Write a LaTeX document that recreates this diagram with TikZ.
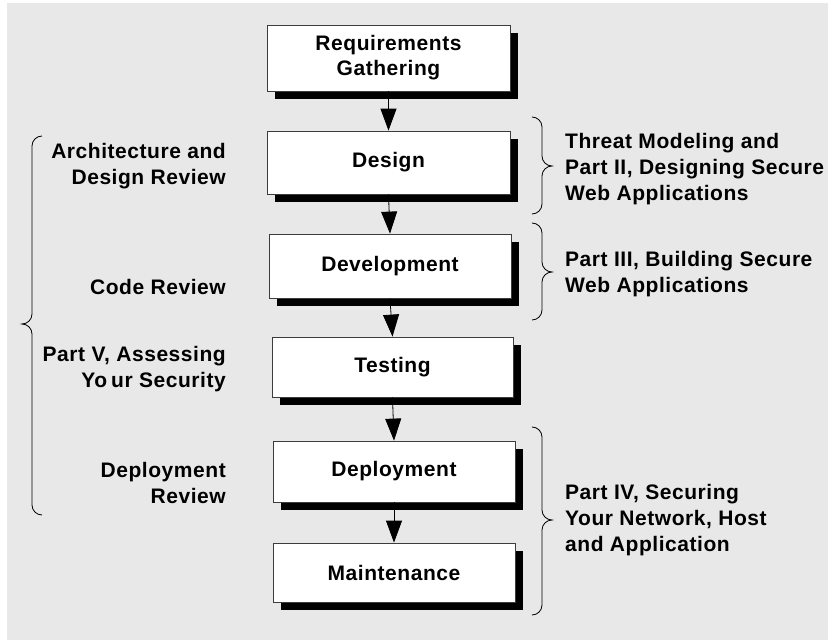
\documentclass[tikz,border=0pt]{standalone}
\usepackage{fontspec}
\setmainfont{Liberation Sans}[LetterSpace=2.6]
\usetikzlibrary{arrows.meta,shadows}
\definecolor{bggray}{RGB}{232,232,232}
\definecolor{boxline}{RGB}{60,60,60}
\begin{document}
\begin{tikzpicture}[x=1pt,y=-1pt,
  stagebox/.style={draw=boxline,line width=0.8pt,fill=white,inner sep=0pt,align=center,
    font=\fontsize{21}{25}\selectfont\bfseries,
    drop shadow={shadow xshift=8pt,shadow yshift=-8pt,fill=black,opacity=1}},
  lbl/.style={inner sep=0pt,font=\fontsize{21}{26}\selectfont\bfseries},
  flow/.style={line width=0.8pt,-{Triangle[width=16pt,length=22pt]}},
  bracepath/.style={line width=0.8pt,draw=black}]
\useasboundingbox (0,0) rectangle (828,640);
\fill[bggray] (7,3) rectangle (828,640);
% stages
\node[stagebox,minimum width=243pt,minimum height=66pt] (req) at (388.5,58) {Requirements\\Gathering};
\node[stagebox,minimum width=243pt,minimum height=63pt] (des) at (388.5,162.5) {Design};
\node[stagebox,minimum width=242pt,minimum height=64pt] (dev) at (390,266) {Development};
\node[stagebox,minimum width=241pt,minimum height=60pt] (tst) at (392.5,367) {Testing};
\node[stagebox,minimum width=242pt,minimum height=61pt] (dep) at (394,471.5) {Deployment};
\node[stagebox,minimum width=242pt,minimum height=59pt] (mnt) at (394,572.5) {Maintenance};
% arrows
\draw[flow] (req.south) -- (des.north);
\draw[flow] (des.south) -- (dev.north);
\draw[flow] (dev.south) -- (tst.north);
\draw[flow] (tst.south) -- (dep.north);
\draw[flow] (dep.south) -- (mnt.north);
% left labels
\node[lbl,anchor=east,align=right] (l1) at (226,166.5) {Architecture and\\Design Review};
\node[lbl,anchor=east,align=right] (l2) at (226,287) {Code Review};
\node[lbl,anchor=east,align=right] (l3) at (226,369.5) {Part V, Assessing\\Yo\kern4pt ur Security};
\node[lbl,anchor=east,align=right] (l4) at (226,482.5) {Deployment\\Review};
% right labels
\node[lbl,anchor=west,align=left] (r1) at (565,169) {Threat Modeling and\\Part II, Designing Secure\\Web Applications};
\node[lbl,anchor=west,align=left] (r2) at (565,274.5) {Part III, Building Secure\\Web Applications};
\node[lbl,anchor=west,align=left] (r3) at (565,520) {Part IV, Securing\\Your Network, Host\\and Application};
% left brace
\draw[bracepath] (42,136) to[out=180,in=90] (32,146) -- (32,314) to[out=-90,in=0] (22,324)
  to[out=0,in=90] (32,334) -- (32,505) to[out=-90,in=180] (42,515);
% right braces
\draw[bracepath] (532,117) to[out=0,in=90] (542,127) -- (542,156) to[out=-90,in=180] (552,166)
  to[out=180,in=90] (542,176) -- (542,204) to[out=-90,in=0] (532,214);
\draw[bracepath] (532,223) to[out=0,in=90] (542,233) -- (542,262) to[out=-90,in=180] (552,272)
  to[out=180,in=90] (542,282) -- (542,310) to[out=-90,in=0] (532,320);
\draw[bracepath] (532,427) to[out=0,in=90] (542,437) -- (542,510) to[out=-90,in=180] (552,520)
  to[out=180,in=90] (542,530) -- (542,605) to[out=-90,in=0] (532,615);
\end{tikzpicture}
\end{document}
